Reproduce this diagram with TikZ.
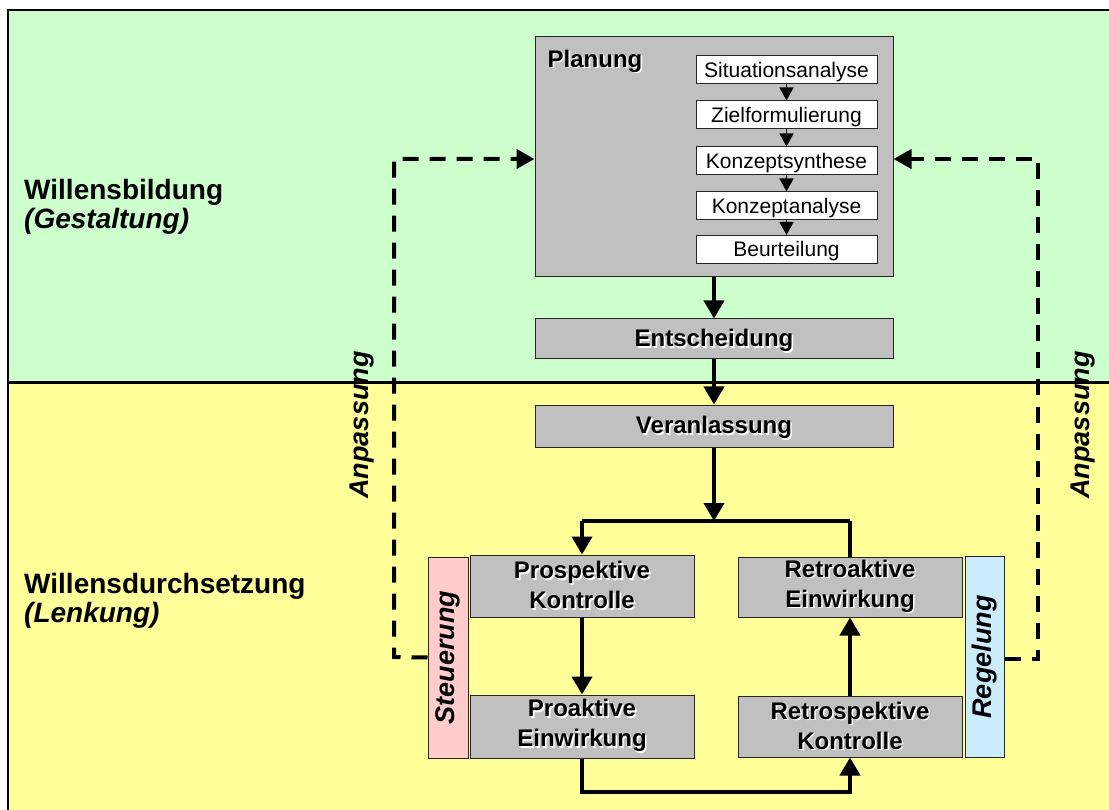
\documentclass[tikz,border=0pt]{standalone}
\usepackage{fontspec}
\setmainfont{Liberation Sans}
\usetikzlibrary{arrows.meta}
\definecolor{bggreen}{HTML}{CCFFCC}
\definecolor{bgyellow}{HTML}{FFFF99}
\definecolor{boxgray}{HTML}{C0C0C0}
\definecolor{steuerpink}{HTML}{FFCCCC}
\definecolor{regelblue}{HTML}{CCECFF}
\newcommand\shd[1]{\makebox[0pt][l]{\hspace{1.6pt}\raisebox{-1.6pt}{\color{white}#1}}#1}
\tikzset{
  graybox/.style={draw=black!85, line width=1pt, fill=boxgray, inner sep=0pt,
    font=\fontsize{24}{30}\selectfont\bfseries, align=center},
  subbox/.style={draw=black!85, line width=1pt, fill=white, inner sep=0pt,
    minimum width=181pt, minimum height=28pt, text depth=1pt, font=\fontsize{21}{24}\selectfont},
  sidebox/.style={draw=black!85, line width=1pt, inner sep=0pt,
    minimum width=40pt, minimum height=201pt},
  sidelabel/.style={rotate=90, font=\fontsize{27}{30}\selectfont\bfseries\itshape, inner sep=0pt},
  mainarrow/.style={line width=4pt, -{Triangle[length=18pt,width=20pt]}},
  mainline/.style={line width=4pt},
  smallarrow/.style={line width=1.5pt, -{Triangle[length=13pt,width=14pt]}},
  dasharrow/.style={line width=4pt, dash pattern=on 16pt off 11pt, -{Triangle[length=18pt,width=19pt]}},
  regionlabel/.style={font=\fontsize{28}{29}\selectfont\bfseries, align=left, inner sep=0pt}
}
\begin{document}
\begin{tikzpicture}[x=1pt,y=-1pt]
\useasboundingbox (0,0) rectangle (1109,810);
% backgrounds
\fill[bggreen] (8,10) rectangle (1109,383);
\fill[bgyellow] (8,383) rectangle (1109,810);
\draw[line width=2pt] (8,810) -- (8,10) -- (1109,10);
\draw[line width=3pt] (8,383) -- (1109,383);

% region labels
\node[regionlabel, anchor=base west] (wb) at (24,229) {Willensbildung\\\itshape(Gestaltung)};
\node[regionlabel, anchor=base west] (wd) at (24,622) {Willensdurchsetzung\\\itshape(Lenkung)};

% Planung
\node[graybox, minimum width=358pt, minimum height=240pt] (plan) at (714,157) {};
\node[font=\fontsize{24}{30}\selectfont\bfseries, inner sep=0pt] (planlabel) at (595,62) {\shd{Planung}};
\node[subbox] (s1) at (786.5,70) {Situationsanalyse};
\node[subbox] (s2) at (786.5,115) {Zielformulierung};
\node[subbox] (s3) at (786.5,161) {Konzeptsynthese};
\node[subbox] (s4) at (786.5,206) {Konzeptanalyse};
\node[subbox] (s5) at (786.5,249.5) {Beurteilung};
\foreach \a/\b in {s1/s2,s2/s3,s3/s4,s4/s5}
  \draw[smallarrow] (\a.south) -- (\b.north);

% Entscheidung, Veranlassung
\node[graybox, minimum width=358pt, minimum height=40pt, text depth=2pt] (ent) at (714,339) {\shd{Entscheidung}};
\node[graybox, minimum width=358pt, minimum height=42pt, text depth=2pt] (ver) at (714,426) {\shd{Veranlassung}};
\draw[mainarrow] (plan.south) -- (ent.north);
\draw[mainarrow] (ent.south) -- (ver.north);

% lower boxes
\node[graybox, minimum width=224pt, minimum height=62pt] (prosp) at (582,586) {\shd{Prospektive}\\\shd{Kontrolle}};
\node[graybox, minimum width=224pt, minimum height=63pt] (proakt) at (582,726.5) {\shd{Proaktive}\\\shd{Einwirkung}};
\node[graybox, minimum width=224pt, minimum height=60pt] (retroakt) at (850,587) {\shd{Retroaktive}\\\shd{Einwirkung}};
\node[graybox, minimum width=224pt, minimum height=61pt] (retrosp) at (850,726.5) {\shd{Retrospektive}\\\shd{Kontrolle}};
\node[sidebox, fill=steuerpink] (steu) at (448,657.5) {};
\node[sidelabel] (steulabel) at (448,657.5) {Steuerung};
\node[sidebox, fill=regelblue, minimum width=39pt] (reg) at (984.5,657) {};
\node[sidelabel] (reglabel) at (984.5,657) {Regelung};

% flow
\coordinate (j) at (714,521);
\coordinate (jl) at (582,521);
\coordinate (jr) at (850,521);
\draw[mainarrow] (ver.south) -- (j);
\draw[mainline] (jr) -- (jl);
\draw[mainarrow] (jl) -- (prosp.north);
\draw[mainline] (jr) -- (retroakt.north);
\draw[mainarrow] (prosp.south) -- (proakt.north);
\coordinate (bl) at (582,792);
\coordinate (br) at (850,792);
\draw[mainarrow] (proakt.south) -- (bl) -- (br) -- (retrosp.south);
\draw[mainarrow] (retrosp.north) -- (retroakt.south);

% feedback dashed
\coordinate (lb) at (394,657);
\coordinate (lt) at (394,159);
\coordinate (rb) at (1038,659);
\coordinate (rt) at (1038,159);
\draw[dasharrow] (steu.west) -- (lb) -- (lt) -- (plan.west |- lt);
\draw[dasharrow] (reg.east |- rb) -- (rb) -- (rt) -- (plan.east |- rt);
\node[sidelabel] (anpl) at (362,425) {Anpassung};
\node[sidelabel] (anpr) at (1083,425) {Anpassung};
\end{tikzpicture}
\end{document}
